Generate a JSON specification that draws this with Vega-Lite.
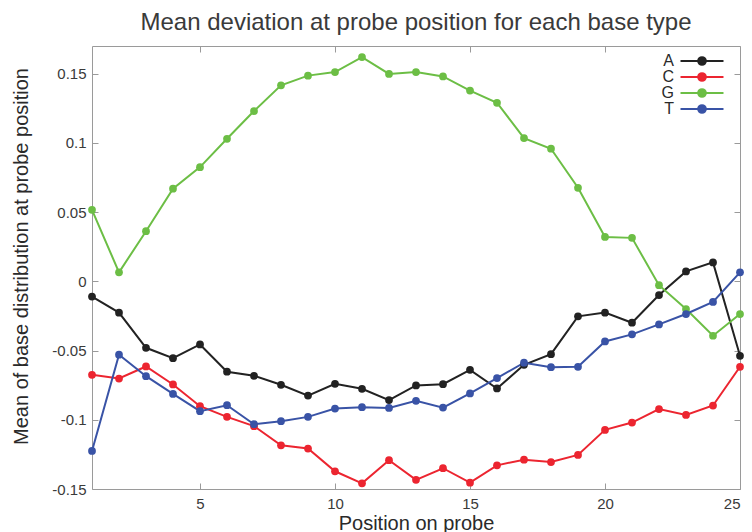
{
  "$schema": "https://vega.github.io/schema/vega-lite/v6.json",
  "width": 648,
  "height": 443,
  "autosize": {"type": "none"},
  "padding": {"left": 92, "top": 46, "right": 12, "bottom": 43},
  "background": "white",
  "config": {
    "font": "Liberation Sans",
    "view": {"stroke": "#9a9a9a", "strokeWidth": 1},
    "axis": {
      "domain": false,
      "grid": false,
      "tickColor": "#9a9a9a",
      "tickSize": -6,
      "labelFont": "Liberation Sans",
      "labelFontSize": 15,
      "labelColor": "#3a3a3a",
      "titleFont": "Liberation Sans",
      "titleFontWeight": "normal",
      "titleColor": "#2a2a2a"
    }
  },
  "title": {
    "text": "Mean deviation at probe position for each base type",
    "font": "Liberation Sans",
    "fontSize": 24,
    "fontWeight": "normal",
    "color": "#3a3a3a",
    "anchor": "middle",
    "baseline": "alphabetic",
    "offset": -8
  },
  "data": {
    "values": [
      {"pos": 1, "base": "A", "value": -0.011},
      {"pos": 2, "base": "A", "value": -0.0226},
      {"pos": 3, "base": "A", "value": -0.048},
      {"pos": 4, "base": "A", "value": -0.0555},
      {"pos": 5, "base": "A", "value": -0.0456},
      {"pos": 6, "base": "A", "value": -0.0653},
      {"pos": 7, "base": "A", "value": -0.0682},
      {"pos": 8, "base": "A", "value": -0.0747},
      {"pos": 9, "base": "A", "value": -0.0825},
      {"pos": 10, "base": "A", "value": -0.074},
      {"pos": 11, "base": "A", "value": -0.0776},
      {"pos": 12, "base": "A", "value": -0.0858},
      {"pos": 13, "base": "A", "value": -0.0752},
      {"pos": 14, "base": "A", "value": -0.0743},
      {"pos": 15, "base": "A", "value": -0.0639},
      {"pos": 16, "base": "A", "value": -0.0774},
      {"pos": 17, "base": "A", "value": -0.0603},
      {"pos": 18, "base": "A", "value": -0.0526},
      {"pos": 19, "base": "A", "value": -0.0253},
      {"pos": 20, "base": "A", "value": -0.0226},
      {"pos": 21, "base": "A", "value": -0.0299},
      {"pos": 22, "base": "A", "value": -0.0099},
      {"pos": 23, "base": "A", "value": 0.0072},
      {"pos": 24, "base": "A", "value": 0.0137},
      {"pos": 25, "base": "A", "value": -0.0538},
      {"pos": 1, "base": "C", "value": -0.0675},
      {"pos": 2, "base": "C", "value": -0.0702},
      {"pos": 3, "base": "C", "value": -0.0615},
      {"pos": 4, "base": "C", "value": -0.0745},
      {"pos": 5, "base": "C", "value": -0.0902},
      {"pos": 6, "base": "C", "value": -0.0979},
      {"pos": 7, "base": "C", "value": -0.1046},
      {"pos": 8, "base": "C", "value": -0.1184},
      {"pos": 9, "base": "C", "value": -0.1208},
      {"pos": 10, "base": "C", "value": -0.1372},
      {"pos": 11, "base": "C", "value": -0.1459},
      {"pos": 12, "base": "C", "value": -0.1292},
      {"pos": 13, "base": "C", "value": -0.1434},
      {"pos": 14, "base": "C", "value": -0.135},
      {"pos": 15, "base": "C", "value": -0.1454},
      {"pos": 16, "base": "C", "value": -0.1329},
      {"pos": 17, "base": "C", "value": -0.1288},
      {"pos": 18, "base": "C", "value": -0.1305},
      {"pos": 19, "base": "C", "value": -0.1254},
      {"pos": 20, "base": "C", "value": -0.1073},
      {"pos": 21, "base": "C", "value": -0.102},
      {"pos": 22, "base": "C", "value": -0.0923},
      {"pos": 23, "base": "C", "value": -0.0965},
      {"pos": 24, "base": "C", "value": -0.0897},
      {"pos": 25, "base": "C", "value": -0.0617},
      {"pos": 1, "base": "G", "value": 0.0517},
      {"pos": 2, "base": "G", "value": 0.0065},
      {"pos": 3, "base": "G", "value": 0.0362},
      {"pos": 4, "base": "G", "value": 0.0669},
      {"pos": 5, "base": "G", "value": 0.0825},
      {"pos": 6, "base": "G", "value": 0.103},
      {"pos": 7, "base": "G", "value": 0.123},
      {"pos": 8, "base": "G", "value": 0.1416},
      {"pos": 9, "base": "G", "value": 0.1486},
      {"pos": 10, "base": "G", "value": 0.1512},
      {"pos": 11, "base": "G", "value": 0.162},
      {"pos": 12, "base": "G", "value": 0.1498},
      {"pos": 13, "base": "G", "value": 0.1512},
      {"pos": 14, "base": "G", "value": 0.148},
      {"pos": 15, "base": "G", "value": 0.1378},
      {"pos": 16, "base": "G", "value": 0.129},
      {"pos": 17, "base": "G", "value": 0.1035},
      {"pos": 18, "base": "G", "value": 0.0958},
      {"pos": 19, "base": "G", "value": 0.0676},
      {"pos": 20, "base": "G", "value": 0.0321},
      {"pos": 21, "base": "G", "value": 0.0314},
      {"pos": 22, "base": "G", "value": -0.0028},
      {"pos": 23, "base": "G", "value": -0.02},
      {"pos": 24, "base": "G", "value": -0.0393},
      {"pos": 25, "base": "G", "value": -0.0236},
      {"pos": 1, "base": "T", "value": -0.1225},
      {"pos": 2, "base": "T", "value": -0.053},
      {"pos": 3, "base": "T", "value": -0.0685},
      {"pos": 4, "base": "T", "value": -0.0813},
      {"pos": 5, "base": "T", "value": -0.0938},
      {"pos": 6, "base": "T", "value": -0.0895},
      {"pos": 7, "base": "T", "value": -0.1032},
      {"pos": 8, "base": "T", "value": -0.101},
      {"pos": 9, "base": "T", "value": -0.0979},
      {"pos": 10, "base": "T", "value": -0.0919},
      {"pos": 11, "base": "T", "value": -0.0909},
      {"pos": 12, "base": "T", "value": -0.0914},
      {"pos": 13, "base": "T", "value": -0.0863},
      {"pos": 14, "base": "T", "value": -0.0912},
      {"pos": 15, "base": "T", "value": -0.081},
      {"pos": 16, "base": "T", "value": -0.0699},
      {"pos": 17, "base": "T", "value": -0.0588},
      {"pos": 18, "base": "T", "value": -0.062},
      {"pos": 19, "base": "T", "value": -0.0617},
      {"pos": 20, "base": "T", "value": -0.0434},
      {"pos": 21, "base": "T", "value": -0.0383},
      {"pos": 22, "base": "T", "value": -0.0311},
      {"pos": 23, "base": "T", "value": -0.0236},
      {"pos": 24, "base": "T", "value": -0.0149},
      {"pos": 25, "base": "T", "value": 0.0065}
    ]
  },
  "resolve": {"axis": {"x": "independent", "y": "independent"}},
  "layer": [
    {
      "mark": {
        "type": "line",
        "strokeWidth": 2,
        "point": {"filled": true, "size": 60, "opacity": 1}
      },
      "encoding": {
        "x": {
          "field": "pos",
          "type": "quantitative",
          "scale": {"domain": [1, 25], "nice": false, "zero": false},
          "axis": {
            "orient": "bottom",
            "values": [5, 10, 15, 20, 25],
            "labelPadding": 13,
            "title": "Position on probe",
            "titleFontSize": 20,
            "titleBaseline": "alphabetic",
            "titleY": 40
          }
        },
        "y": {
          "field": "value",
          "type": "quantitative",
          "scale": {"domain": [-0.15, 0.17], "nice": false, "zero": false},
          "axis": {
            "orient": "left",
            "values": [-0.15, -0.1, -0.05, 0, 0.05, 0.1, 0.15],
            "labelExpr": "'' + datum.value",
            "labelPadding": 12,
            "title": "Mean of base distribution at probe position",
            "titleFontSize": 20,
            "titleBaseline": "alphabetic",
            "titleAngle": -90,
            "titleX": -65,
            "titleY": 210
          }
        },
        "color": {
          "field": "base",
          "type": "nominal",
          "scale": {
            "domain": ["A", "C", "G", "T"],
            "range": ["#222222", "#ec2530", "#6cbe45", "#3953a6"]
          },
          "legend": {
            "title": null,
            "orient": "none",
            "legendX": 602,
            "legendY": 7,
            "padding": 0,
            "rowPadding": -1,
            "symbolType": "M-3.07,0H3.07M-0.55,0A0.55,0.55,0,1,1,0.55,0A0.55,0.55,0,1,1,-0.55,0Z",
            "symbolSize": 196,
            "symbolStrokeWidth": 2,
            "labelAlign": "right",
            "labelOffset": -36,
            "labelFontSize": 16,
            "labelColor": "#2a2a2a",
            "encode": {
              "symbols": {
                "update": {
                  "fill": {"scale": "color", "field": "value"},
                  "stroke": {"scale": "color", "field": "value"},
                  "fillOpacity": {"value": 1}
                }
              }
            }
          }
        }
      }
    },
    {
      "mark": {"type": "point", "opacity": 0},
      "encoding": {
        "x": {
          "field": "pos",
          "type": "quantitative",
          "axis": {
            "orient": "top",
            "values": [5, 10, 15, 20, 25],
            "labels": false,
            "title": null
          }
        },
        "y": {
          "field": "value",
          "type": "quantitative",
          "axis": {
            "orient": "right",
            "values": [-0.15, -0.1, -0.05, 0, 0.05, 0.1, 0.15],
            "labels": false,
            "title": null
          }
        }
      }
    }
  ]
}
